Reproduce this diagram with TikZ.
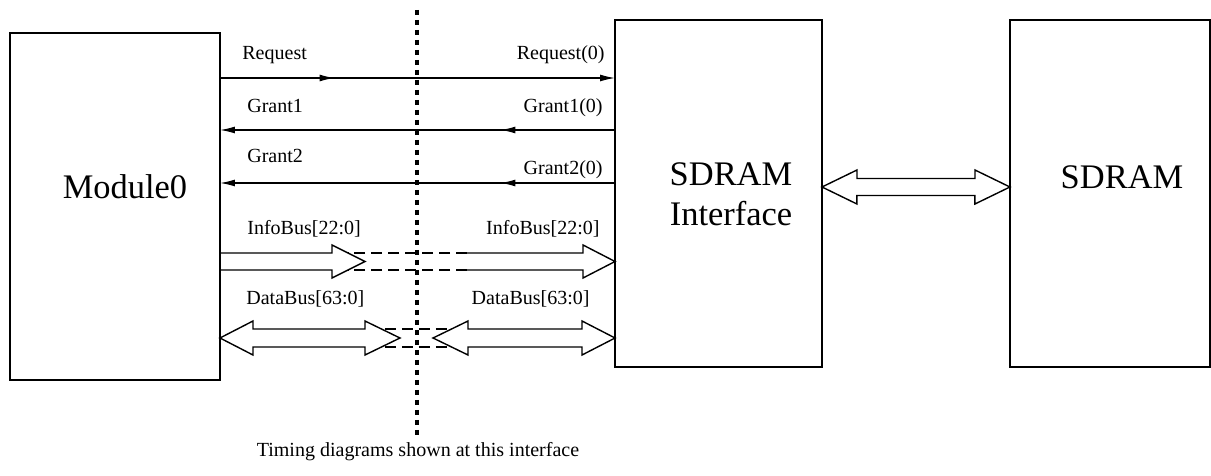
\documentclass[tikz,border=0pt]{standalone}
\usepackage{fontspec}
\setmainfont{Liberation Serif}
\usetikzlibrary{arrows.meta, calc, positioning, decorations.markings}
\tikzstyle{block} = [draw, line width=1.1pt, outer sep=0pt, minimum height=6.94cm]
\tikzstyle{lbl} = [inner sep=0pt, font=\fontsize{11.4}{13}\selectfont]
\tikzstyle{bigtxt} = [inner sep=0pt, align=center, font=\fontsize{11.4}{13.26}\selectfont, scale=1.72]
\tikzstyle{sig} = [line width=0.8pt, -{Latex[length=3mm, width=1.4mm]}]
\tikzstyle{midarr} = [postaction={decorate}, decoration={markings, mark=at position 0.29 with {\arrow{Latex[length=3mm, width=1.4mm]}}}]
\tikzstyle{fat} = [line width=0.8pt, line join=miter]
\tikzstyle{bus} = [line width=0.8pt, dash pattern=on 2.2mm off 1.2mm]
\tikzstyle{divider} = [line width=0.8mm, dash pattern=on 1.1mm off 0.9mm]

\begin{document}
\begin{tikzpicture}[x=0.02cm, y=-0.02cm]
        \useasboundingbox (0,0) rectangle (1211,476);

        \node[block, minimum width=4.2cm] (mod) at (115,206.5) {};
        \node[block, minimum width=4.14cm] (sdi) at (718.5,193.5) {};
        \node[block, minimum width=4cm, right=3.76cm of sdi] (ram) {};

        \node[bigtxt] (modtxt) at (125,187) {Module0};
        \node[bigtxt] (sditxt) at (731,194) {SDRAM\\Interface};
        \node[bigtxt] (ramtxt) at (1122,177) {SDRAM};

        \coordinate (yreq) at (0,78);
        \coordinate (yg1) at (0,130);
        \coordinate (yg2) at (0,183);
        \coordinate (yinfo) at (0,261.5);
        \coordinate (ydata) at (0,338);
        \coordinate (yram) at (0,187);
        \coordinate (dtop) at (417,10);

        \draw[sig, midarr] (mod.east |- yreq) -- (sdi.west |- yreq);
        \draw[sig, midarr] (sdi.west |- yg1) -- (mod.east |- yg1);
        \draw[sig, midarr] (sdi.west |- yg2) -- (mod.east |- yg2);

        \draw[fat] (mod.east |- yinfo) ++(0,-8.5) -- ++(112,0) -- ++(0,-8) -- ++(33,16.5) -- ++(-33,16.5) -- ++(0,-8) -- ++(-112,0);
        \draw[fat] (sdi.west |- yinfo) ++(-148,-8.5) -- ++(116,0) -- ++(0,-8) -- ++(32,16.5) -- ++(-32,16.5) -- ++(0,-8) -- ++(-116,0);
        \draw[bus] (sdi.west |- yinfo) ++(-148,-8.5) -- ++(-119,0);
        \draw[bus] (sdi.west |- yinfo) ++(-148,8.5) -- ++(-119,0);

        \draw[fat] (mod.east |- ydata) -- ++(33,-17) -- ++(0,8) -- ++(112,0) -- ++(0,-8) -- ++(35,17) -- ++(-35,17) -- ++(0,-8) -- ++(-112,0) -- ++(0,8) -- cycle;
        \draw[fat] (sdi.west |- ydata) -- ++(-33,-17) -- ++(0,8) -- ++(-114,0) -- ++(0,-8) -- ++(-35,17) -- ++(35,17) -- ++(0,-8) -- ++(114,0) -- ++(0,8) -- cycle;
        \draw[bus] (mod.east |- ydata) ++(165,-9) -- ++(62,0);
        \draw[bus] (mod.east |- ydata) ++(165,9) -- ++(62,0);

        \draw[fat] (sdi.east |- yram) -- ++(35,-17) -- ++(0,8.5) -- ++(118,0) -- ++(0,-8.5) -- (ram.west |- yram) -- ++(-35,17) -- ++(0,-8.5) -- ++(-118,0) -- ++(0,8.5) -- cycle;

        \node[lbl, anchor=base west] (reqA) at (242,60) {Request};
        \node[lbl, anchor=base east] (reqB) at (605,60) {Request(0)};
        \node[lbl, anchor=base west] (gntA) at (247,113) {Grant1};
        \node[lbl, anchor=base east] (gntB) at (603,113) {Grant1(0)};
        \node[lbl, anchor=base west] (gnttA) at (247,163) {Grant2};
        \node[lbl, anchor=base east] (gnttB) at (603,175) {Grant2(0)};
        \node[lbl, anchor=base west] (infA) at (247,235) {InfoBus[22:0]};
        \node[lbl, anchor=base east] (infB) at (600,235) {InfoBus[22:0]};
        \node[lbl, anchor=base west] (datA) at (246,305) {DataBus[63:0]};
        \node[lbl, anchor=base east] (datB) at (590,305) {DataBus[63:0]};

        \node[lbl, anchor=base] (cap) at (418,457) {Timing diagrams shown at this interface};
        \draw[divider, shorten >=2pt] (dtop) -- (dtop |- cap.north);
\end{tikzpicture}
\end{document}
